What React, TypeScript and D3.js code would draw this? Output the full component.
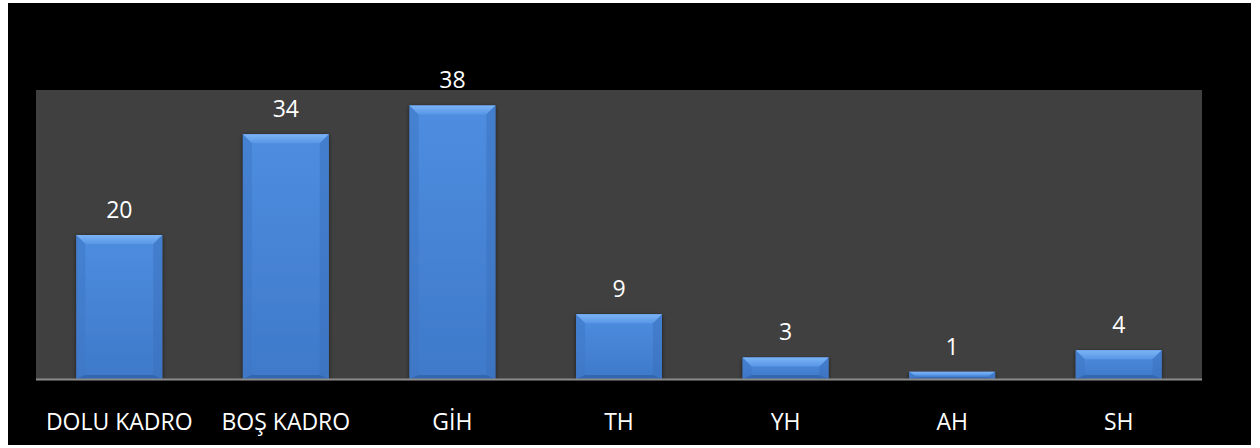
import React from "react";
import * as d3 from "d3";

const categories = ["DOLU KADRO", "BOŞ KADRO", "GİH", "TH", "YH", "AH", "SH"];
const values = [20, 34, 38, 9, 3, 1, 4];
const yDomain = [0, 40];

const W = 1260;
const H = 448;
const plot = { left: 36, right: 1202, top: 91, bottom: 379 };
const FONT = "'Open Sans', 'Noto Sans', sans-serif";

export default function App() {
  const x = d3
    .scaleBand<string>()
    .domain(categories)
    .range([plot.left, plot.right])
    .paddingInner(0.484)
    .paddingOuter(0.242);
  const y = d3.scaleLinear().domain(yDomain).range([plot.bottom, plot.top]);

  return (
    <svg
      width={W}
      height={H}
      style={{ position: "absolute", left: 0, top: 0, display: "block" }}
    >
      <defs>
        <linearGradient id="barFill" x1="0" y1="0" x2="0" y2="1">
          <stop offset="0%" stopColor="#4e8de0" />
          <stop offset="100%" stopColor="#3f79c9" />
        </linearGradient>
        <linearGradient id="topBevel" x1="0" y1="0" x2="0" y2="1">
          <stop offset="0%" stopColor="#7cb4f6" />
          <stop offset="100%" stopColor="#5896e6" />
        </linearGradient>
        <filter id="shadow" x="-10%" y="-10%" width="120%" height="130%">
          <feGaussianBlur in="SourceAlpha" stdDeviation="2" />
          <feOffset dx="0" dy="1" result="b" />
          <feComponentTransfer>
            <feFuncA type="linear" slope="0.6" />
          </feComponentTransfer>
          <feMerge>
            <feMergeNode />
            <feMergeNode in="SourceGraphic" />
          </feMerge>
        </filter>
      </defs>
      <rect x={8} y={3} width={1243} height={442} fill="#000000" />
      <rect
        x={plot.left}
        y={plot.top - 1}
        width={plot.right - plot.left}
        height={plot.bottom - plot.top + 1}
        fill="#404040"
      />
      {categories.map((c, i) => {
        const x0 = x(c)!;
        const bw = x.bandwidth();
        const x1 = x0 + bw;
        const top = y(values[i]);
        const bot = y(0);
        const h = bot - top;
        const bt = Math.min(9, h * 0.5);
        const bs = Math.min(9, bw / 2);
        const bb = Math.min(4, h * 0.25);
        const sideW = Math.min(bs, bt + 2);
        return (
          <g key={c}>
            <g filter="url(#shadow)">
              <rect x={x0} y={top} width={bw} height={h} fill="url(#barFill)" />
            </g>
            <polygon
              points={`${x0},${top} ${x1},${top} ${x1 - sideW},${top + bt} ${x0 + sideW},${top + bt}`}
              fill="url(#topBevel)"
            />
            <polygon
              points={`${x0},${top} ${x0 + sideW},${top + bt} ${x0 + sideW},${bot - bb} ${x0},${bot}`}
              fill="#3e76c4"
              opacity={0.5}
            />
            <polygon
              points={`${x1},${top} ${x1 - sideW},${top + bt} ${x1 - sideW},${bot - bb} ${x1},${bot}`}
              fill="#3a70bb"
              opacity={0.5}
            />
            <polygon
              points={`${x0},${bot} ${x0 + sideW},${bot - bb} ${x1 - sideW},${bot - bb} ${x1},${bot}`}
              fill="#2f62aa"
              opacity={0.8}
            />
            <text
              x={x0 + bw / 2}
              y={top - 17}
              textAnchor="middle"
              fill="#ffffff"
              fontFamily={FONT}
              fontSize={23}
            >
              {values[i]}
            </text>
            <text
              x={x0 + bw / 2}
              y={430}
              textAnchor="middle"
              fill="#ffffff"
              fontFamily={FONT}
              fontSize={23}
            >
              {c}
            </text>
          </g>
        );
      })}
      <line
        x1={plot.left}
        x2={plot.right}
        y1={y(0) + 0.5}
        y2={y(0) + 0.5}
        stroke="#8c8c8c"
        strokeWidth={2}
      />
    </svg>
  );
}
